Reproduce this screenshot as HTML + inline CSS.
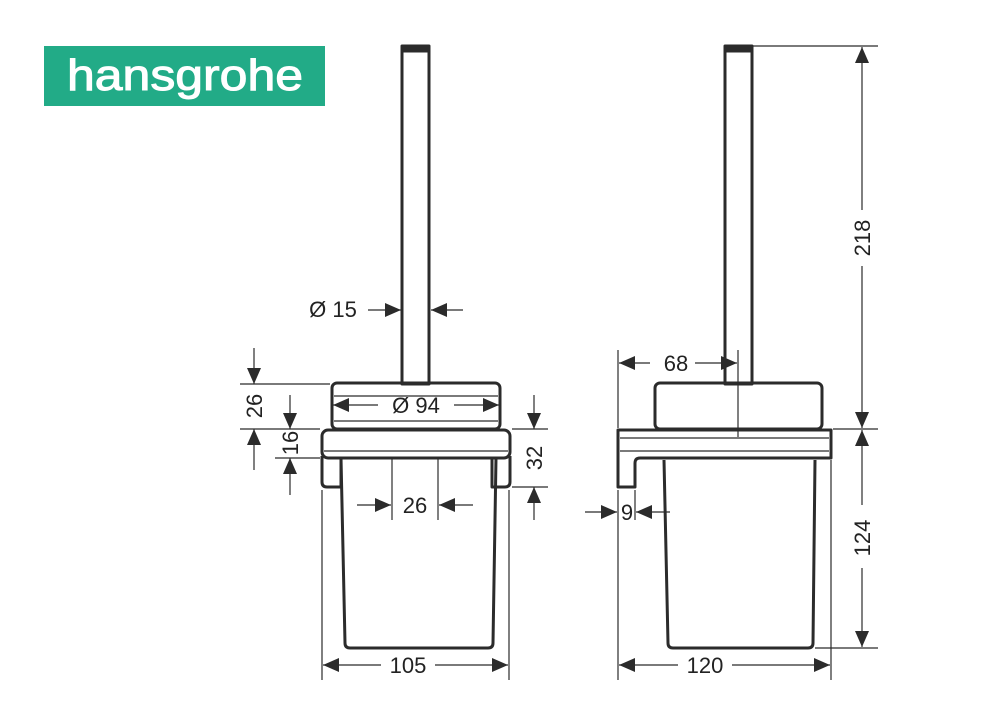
<!DOCTYPE html>
<html><head><meta charset="utf-8"><style>
body{margin:0;background:#fff;width:988px;height:719px;overflow:hidden}
svg text{font-family:"Liberation Sans",sans-serif;font-size:22px;fill:#222}
</style></head><body>
<svg width="988" height="719" viewBox="0 0 988 719" xmlns="http://www.w3.org/2000/svg">
<defs>
<marker id="a" viewBox="0 0 16 14" refX="16" refY="7" markerWidth="16" markerHeight="14" markerUnits="userSpaceOnUse" orient="auto"><path d="M0,0L16,7L0,14z" fill="#2b2b2b"/></marker>
</defs>
<rect x="44" y="46" width="281" height="60" fill="#22ab87"/>
<text x="67" y="90" textLength="236" lengthAdjust="spacingAndGlyphs" style="font-size:44px;fill:#fff;stroke:#fff;stroke-width:1">hansgrohe</text>

<g fill="none" stroke="#2b2b2b" stroke-width="3" stroke-linejoin="round">
<rect x="402" y="47" width="27" height="337"/>
<rect x="402" y="46" width="27" height="5" fill="#2b2b2b"/>
<rect x="332" y="383" width="168" height="46" rx="5"/>
<rect x="322" y="430" width="188" height="28" rx="6"/>
<path d="M322,456V482q0,5 5,5H341V458"/>
<path d="M510,456V482q0,5 -5,5H492V458"/>
<path d="M341,458L345,643q0,5 5,5H488q5,0 5,-5L496,458"/>
<rect x="725" y="47" width="27" height="337"/>
<rect x="725" y="46" width="27" height="5" fill="#2b2b2b"/>
<rect x="655" y="383" width="167" height="46" rx="5"/>
<path d="M618,430H831V458H640q-5,0 -5,5V487H618Z"/>
<path d="M664,460L668,643q0,5 5,5H808q5,0 5,-5L815,460"/>
</g>
<g fill="none" stroke="#2b2b2b" stroke-width="1.2">
<line x1="334" y1="396" x2="498" y2="396"/>
<line x1="334" y1="421" x2="498" y2="421"/>
<line x1="324" y1="451" x2="508" y2="451"/>
<line x1="620" y1="438" x2="829" y2="438"/>
<line x1="620" y1="451" x2="829" y2="451"/>
<line x1="240" y1="384" x2="330" y2="384"/>
<line x1="240" y1="429" x2="320" y2="429"/>
<line x1="275" y1="458" x2="320" y2="458"/>
<line x1="512" y1="429" x2="548" y2="429"/>
<line x1="512" y1="487" x2="548" y2="487"/>
<line x1="322" y1="490" x2="322" y2="680"/>
<line x1="509" y1="490" x2="509" y2="680"/>
<line x1="392" y1="458" x2="392" y2="520"/>
<line x1="438" y1="458" x2="438" y2="520"/>
<line x1="618" y1="350" x2="618" y2="428"/>
<line x1="618" y1="490" x2="618" y2="680"/>
<line x1="635" y1="490" x2="635" y2="520"/>
<line x1="831" y1="460" x2="831" y2="680"/>
<line x1="738" y1="350" x2="738" y2="437"/>
<line x1="753" y1="46" x2="878" y2="46"/>
<line x1="833" y1="429" x2="878" y2="429"/>
<line x1="815" y1="648" x2="878" y2="648"/>
<line x1="254" y1="348" x2="254" y2="384" marker-end="url(#a)"/>
<line x1="254" y1="470" x2="254" y2="429" marker-end="url(#a)"/>
<line x1="290" y1="395" x2="290" y2="429" marker-end="url(#a)"/>
<line x1="290" y1="495" x2="290" y2="458" marker-end="url(#a)"/>
<line x1="534" y1="395" x2="534" y2="429" marker-end="url(#a)"/>
<line x1="534" y1="520" x2="534" y2="487" marker-end="url(#a)"/>
<line x1="378" y1="405" x2="333" y2="405" marker-end="url(#a)"/>
<line x1="454" y1="405" x2="499" y2="405" marker-end="url(#a)"/>
<line x1="368" y1="310" x2="401" y2="310" marker-end="url(#a)"/>
<line x1="463" y1="310" x2="431" y2="310" marker-end="url(#a)"/>
<line x1="357" y1="505" x2="391" y2="505" marker-end="url(#a)"/>
<line x1="473" y1="505" x2="439" y2="505" marker-end="url(#a)"/>
<line x1="381" y1="665" x2="323" y2="665" marker-end="url(#a)"/>
<line x1="435" y1="665" x2="508" y2="665" marker-end="url(#a)"/>
<line x1="678" y1="665" x2="619" y2="665" marker-end="url(#a)"/>
<line x1="732" y1="665" x2="830" y2="665" marker-end="url(#a)"/>
<line x1="650" y1="363" x2="619" y2="363" marker-end="url(#a)"/>
<line x1="695" y1="363" x2="737" y2="363" marker-end="url(#a)"/>
<line x1="585" y1="512" x2="617" y2="512" marker-end="url(#a)"/>
<line x1="670" y1="512" x2="636" y2="512" marker-end="url(#a)"/>
<line x1="862" y1="210" x2="862" y2="47" marker-end="url(#a)"/>
<line x1="862" y1="266" x2="862" y2="428" marker-end="url(#a)"/>
<line x1="862" y1="505" x2="862" y2="430" marker-end="url(#a)"/>
<line x1="862" y1="568" x2="862" y2="647" marker-end="url(#a)"/>
</g>
<text x="416" y="413" text-anchor="middle">Ø 94</text>
<text x="333" y="317" text-anchor="middle">Ø 15</text>
<text x="415" y="513" text-anchor="middle">26</text>
<text x="408" y="673" text-anchor="middle">105</text>
<text x="705" y="673" text-anchor="middle">120</text>
<text x="676" y="371" text-anchor="middle">68</text>
<text x="627" y="520" text-anchor="middle">9</text>
<text transform="translate(262,406) rotate(-90)" text-anchor="middle">26</text>
<text transform="translate(298,443) rotate(-90)" text-anchor="middle">16</text>
<text transform="translate(542,458) rotate(-90)" text-anchor="middle">32</text>
<text transform="translate(870,238) rotate(-90)" text-anchor="middle">218</text>
<text transform="translate(870,538) rotate(-90)" text-anchor="middle">124</text>
</svg>
</body></html>
